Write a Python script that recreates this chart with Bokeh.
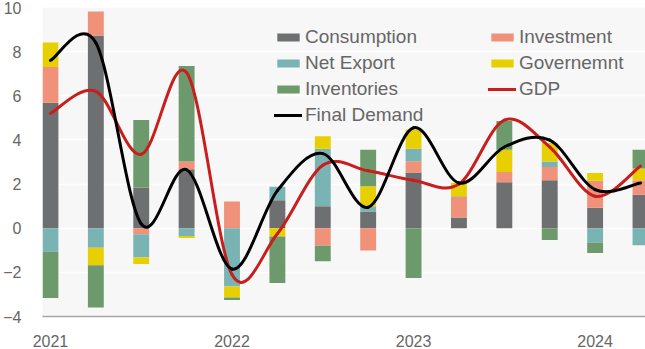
import numpy as np
from bokeh.plotting import figure
from bokeh.models import Range1d, FixedTicker, Legend, LegendItem
from bokeh.embed import file_html
from bokeh.resources import INLINE

quarters = list(range(14))
year_ticks = [0, 4, 8, 12]
year_labels = ["2021", "2022", "2023", "2024"]

consumption = [5.68, 8.73, 1.85, 2.67, 0.00, 1.27, 1.00, 0.76, 2.52, 0.49, 2.08, 2.17, 0.93, 1.52]
investment = [1.62, 1.09, -0.27, 0.35, 1.21, 0.00, -0.80, -1.01, 0.51, 0.92, 0.47, 0.60, 1.22, 0.65]
net_export = [-1.05, -0.89, -1.06, -0.35, -2.64, 0.61, 2.60, 0.23, 0.57, 0.04, 0.00, 0.25, -0.65, -0.77]
government = [1.11, -0.79, -0.29, -0.09, -0.50, -0.38, 0.57, 0.91, 0.87, 0.60, 1.01, 0.84, 0.35, 0.53]
inventories = [-2.11, -1.91, 3.05, 4.33, -0.11, -2.10, -0.70, 1.66, -2.25, 0.00, 1.30, -0.53, -0.47, 0.86]
gdp = [5.20, 6.20, 3.35, 7.05, -2.10, -0.25, 2.85, 2.60, 2.17, 2.00, 4.90, 3.68, 1.45, 2.82]
final_demand = [7.60, 8.40, 0.20, 2.65, -1.85, 1.70, 3.38, 0.95, 4.55, 2.05, 3.68, 3.99, 1.75, 2.05]

series = [
    ("Consumption", consumption, "#6e6f71"),
    ("Investment", investment, "#f0917a"),
    ("Net Export", net_export, "#7ab3b3"),
    ("Governemnt", government, "#e8d000"),
    ("Inventories", inventories, "#6d9a6d"),
]

FONT = "Liberation Sans"
TXT = "#666666"

p = figure(width=645, height=349, output_backend="svg", toolbar_location=None,
           x_range=Range1d(-0.175, 13.11), y_range=Range1d(-4, 10),
           min_border_left=38, min_border_right=0, min_border_top=7, min_border_bottom=32)
p.background_fill_color = "#f7f7f7"
p.border_fill_color = "white"
p.outline_line_color = None

pos_base = np.zeros(len(quarters))
neg_base = np.zeros(len(quarters))
bar_renderers = {}
for name, vals, color in series:
    v = np.array(vals, dtype=float)
    bottom = np.where(v >= 0, pos_base, neg_base)
    top = bottom + v
    r = p.vbar(x=quarters, bottom=bottom, top=top, width=0.35,
               fill_color=color, line_color=None)
    bar_renderers[name] = r
    pos_base = np.where(v >= 0, top, pos_base)
    neg_base = np.where(v < 0, top, neg_base)


def smooth(xs, ys):
    """Bezier control points for a Catmull-Rom style smoothed line through the data points."""
    xs = np.array(xs, dtype=float)
    ys = np.array(ys, dtype=float)
    n = len(xs)
    out = dict(x0=[], y0=[], x1=[], y1=[], cx0=[], cy0=[], cx1=[], cy1=[])
    for i in range(n - 1):
        a = i - 1 if i > 0 else i
        d = i + 2 if i + 2 < n else i + 1
        out["x0"].append(xs[i]); out["y0"].append(ys[i])
        out["x1"].append(xs[i + 1]); out["y1"].append(ys[i + 1])
        out["cx0"].append(xs[i] + (xs[i + 1] - xs[a]) / 6)
        out["cy0"].append(ys[i] + (ys[i + 1] - ys[a]) / 6)
        out["cx1"].append(xs[i + 1] - (xs[d] - xs[i]) / 6)
        out["cy1"].append(ys[i + 1] - (ys[d] - ys[i]) / 6)
    return out


r_gdp = p.bezier(**smooth(quarters, gdp), line_color="#c81e1e", line_width=3, line_cap="round")
r_fd = p.bezier(**smooth(quarters, final_demand), line_color="black", line_width=3, line_cap="round")

# axes
p.yaxis.ticker = FixedTicker(ticks=[-4, -2, 0, 2, 4, 6, 8, 10])
p.yaxis.axis_line_color = None
p.yaxis.major_tick_line_color = None
p.yaxis.minor_tick_line_color = None
p.yaxis.major_label_standoff = 15
p.yaxis.major_label_text_font = FONT
p.yaxis.major_label_text_font_size = "16px"
p.yaxis.major_label_text_color = TXT

p.xaxis.ticker = FixedTicker(ticks=year_ticks)
p.xaxis.major_label_overrides = {t: l for t, l in zip(year_ticks, year_labels)}
p.xaxis.axis_line_color = "#a6a6a6"
p.xaxis.axis_line_width = 1.5
p.xaxis.major_tick_line_color = None
p.xaxis.minor_tick_line_color = None
p.xaxis.major_label_standoff = 12
p.xaxis.major_label_text_font = FONT
p.xaxis.major_label_text_font_size = "16px"
p.xaxis.major_label_text_color = TXT

p.xgrid.grid_line_color = None
p.ygrid.ticker = FixedTicker(ticks=[-2, 0, 2, 4, 6, 8])
p.ygrid.grid_line_color = "white"
p.ygrid.grid_line_width = 1.5


def make_legend(items, loc):
    leg = Legend(items=items, location=loc, orientation="vertical",
                 label_text_font=FONT, label_text_font_size="19px", label_text_color=TXT,
                 glyph_width=28, glyph_height=10, label_standoff=3, label_height=25,
                 spacing=1, padding=0, margin=0, border_line_color=None,
                 background_fill_alpha=0)
    return leg


left_items = [
    LegendItem(label="Consumption", renderers=[bar_renderers["Consumption"]]),
    LegendItem(label="Net Export", renderers=[bar_renderers["Net Export"]]),
    LegendItem(label="Inventories", renderers=[bar_renderers["Inventories"]]),
    LegendItem(label="Final Demand", renderers=[r_fd]),
]
right_items = [
    LegendItem(label="Investment", renderers=[bar_renderers["Investment"]]),
    LegendItem(label="Governemnt", renderers=[bar_renderers["Governemnt"]]),
    LegendItem(label="GDP", renderers=[r_gdp]),
]
p.add_layout(make_legend(left_items, (232, 189)), "center")
p.add_layout(make_legend(right_items, (446, 215)), "center")

open("out.html", "w").write(file_html(p, INLINE))
